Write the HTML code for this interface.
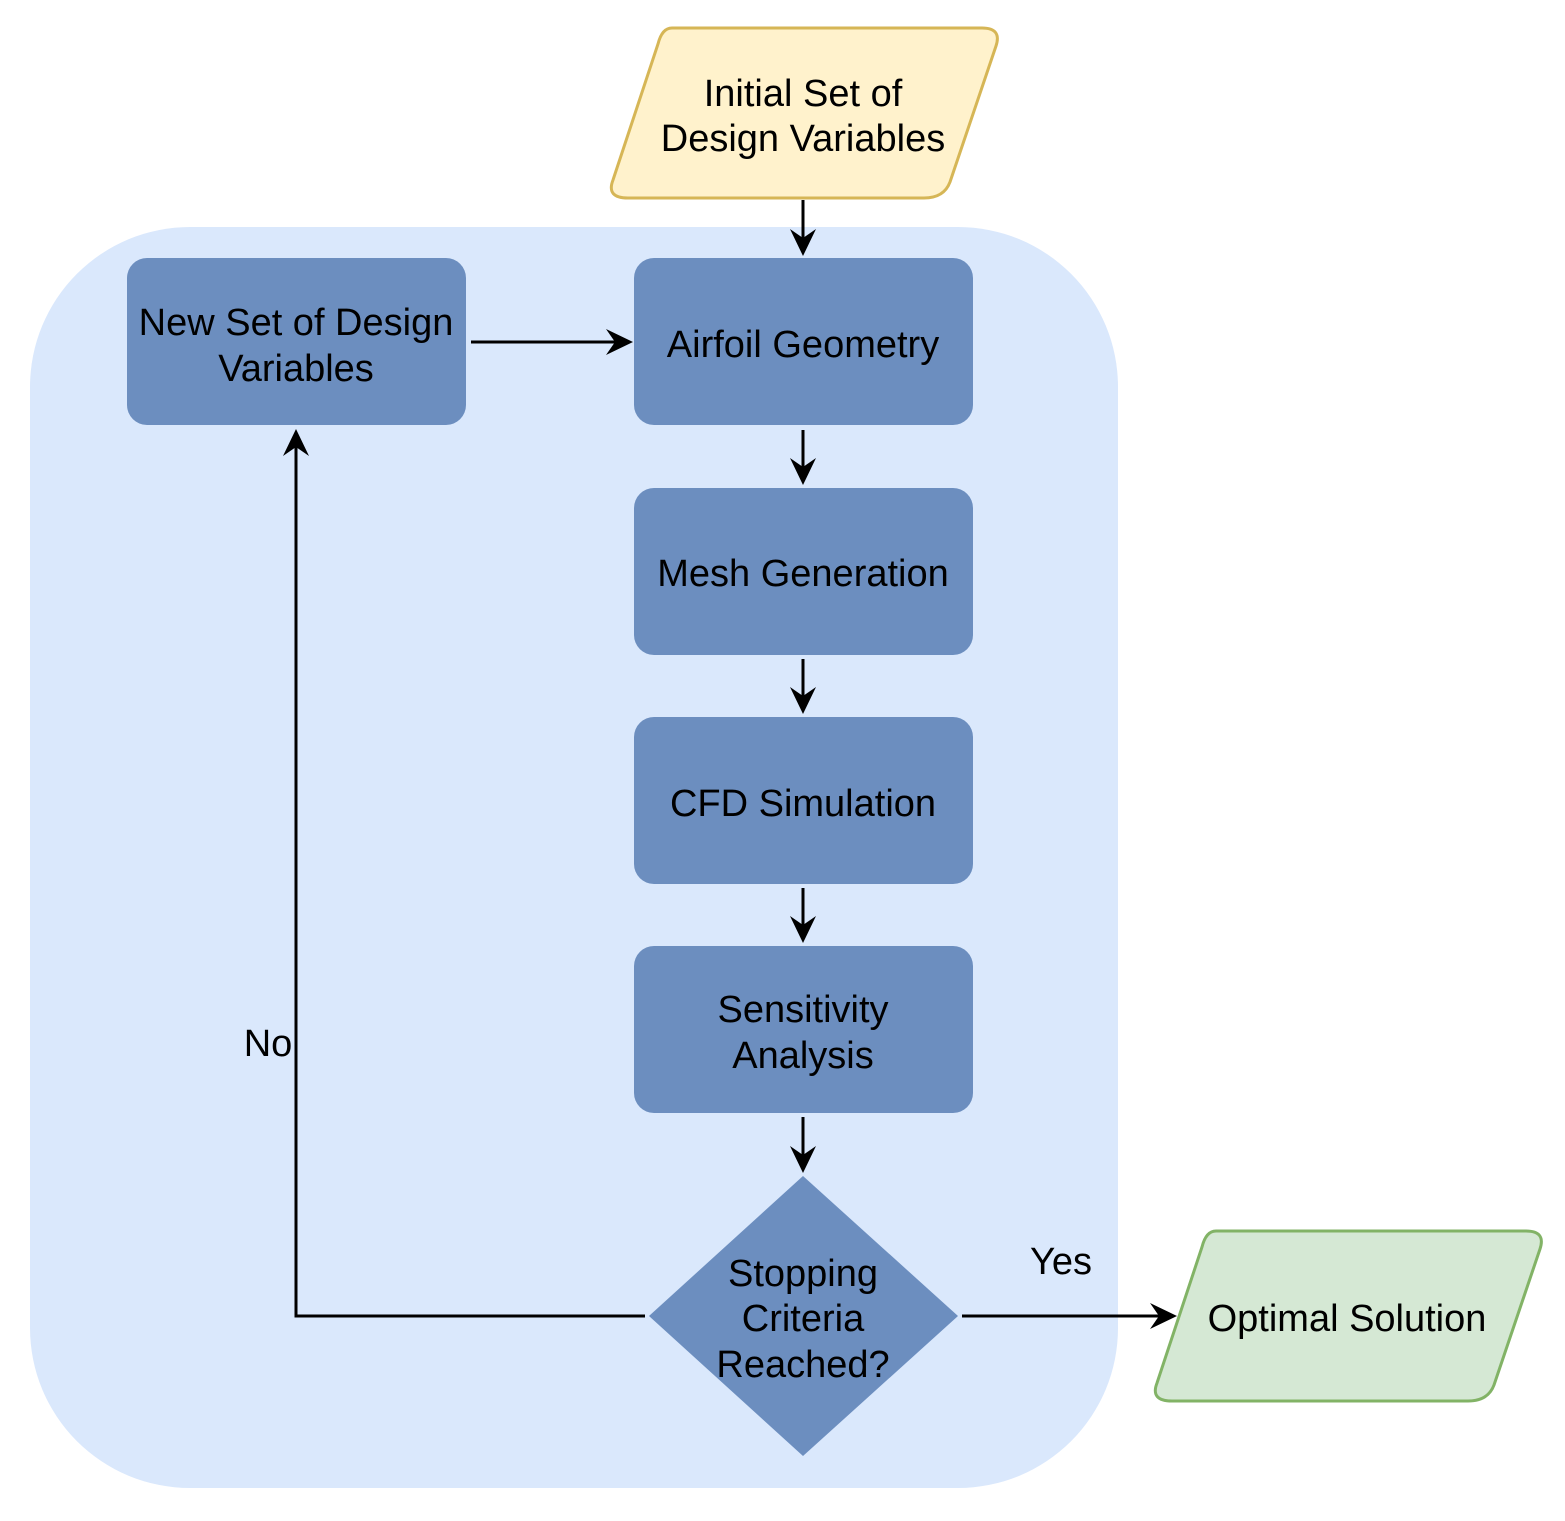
<!DOCTYPE html>
<html><head><style>html,body{margin:0;padding:0;background:#fff}</style></head><body>
<svg width="1565" height="1516" xmlns="http://www.w3.org/2000/svg" font-family="Liberation Sans, Arial, sans-serif" font-size="38" text-anchor="middle">
<rect x="30" y="227" width="1088" height="1261" rx="160" fill="#dae8fc"/>
<path d="M672,28 L982,28 Q1002,28 996,46 L950,182 Q944,198 924,198 L628,198 Q606,198 613,180 L658,44 Q662,28 672,28 Z" fill="#fff2cc" stroke="#d6b656" stroke-width="3"/>
<text x="803" y="106">Initial Set of</text>
<text x="803" y="151">Design Variables</text>
<rect x="127" y="258" width="339" height="167" rx="20" fill="#6c8ebf"/>
<text x="296" y="335">New Set of Design</text>
<text x="296" y="381">Variables</text>
<rect x="634" y="258" width="339" height="167" rx="20" fill="#6c8ebf"/>
<text x="803" y="357">Airfoil Geometry</text>
<rect x="634" y="488" width="339" height="167" rx="20" fill="#6c8ebf"/>
<text x="803" y="586">Mesh Generation</text>
<rect x="634" y="717" width="339" height="167" rx="20" fill="#6c8ebf"/>
<text x="803" y="816">CFD Simulation</text>
<rect x="634" y="946" width="339" height="167" rx="20" fill="#6c8ebf"/>
<text x="803" y="1022">Sensitivity</text>
<text x="803" y="1068">Analysis</text>
<path d="M803,1176 L958,1316 L803,1456 L649,1316 Z" fill="#6c8ebf"/>
<text x="803" y="1286">Stopping</text>
<text x="803" y="1331">Criteria</text>
<text x="803" y="1377">Reached?</text>
<path d="M1216,1231 L1526,1231 Q1546,1231 1540,1249 L1494,1385 Q1488,1401 1468,1401 L1172,1401 Q1150,1401 1157,1383 L1202,1247 Q1206,1231 1216,1231 Z" fill="#d5e8d4" stroke="#82b366" stroke-width="3"/>
<text x="1347" y="1331">Optimal Solution</text>
<g stroke="#000" stroke-width="3" fill="none">
<path d="M803,200 V240"/><path d="M803,430 V469"/><path d="M803,659 V698"/><path d="M803,888 V927"/><path d="M803,1117 V1157"/>
<path d="M471,342 H617"/>
<path d="M645,1316 H296 V446"/>
<path d="M962,1316 H1161"/>
</g>
<g fill="#000">
<path d="M803,256 L790,229 L803,238 L816,229 Z"/>
<path d="M803,485 L790,458 L803,467 L816,458 Z"/>
<path d="M803,714 L790,687 L803,696 L816,687 Z"/>
<path d="M803,943 L790,916 L803,925 L816,916 Z"/>
<path d="M803,1173 L790,1146 L803,1155 L816,1146 Z"/>
<path d="M633,342 L606,329 L615,342 L606,355 Z"/>
<path d="M296,429 L283,456 L296,447 L309,456 Z"/>
<path d="M1177,1316 L1150,1303 L1159,1316 L1150,1329 Z"/>
</g>
<text x="268" y="1056">No</text>
<text x="1061" y="1274">Yes</text>
</svg>
</body></html>
